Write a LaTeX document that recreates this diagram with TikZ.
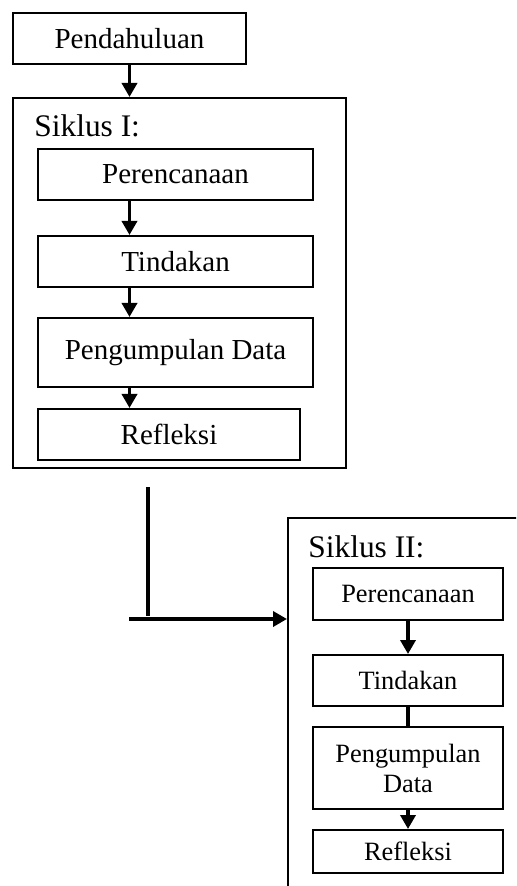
\documentclass[tikz,border=0pt]{standalone}
\usepackage{fontspec}
\setmainfont{Liberation Serif}
\usetikzlibrary{positioning,arrows.meta}

\begin{document}
\begin{tikzpicture}[
    x = 0.5pt, y = -0.5pt,
    > = {Triangle[length=7pt, width=7.5pt]},
    node distance = 17pt,
    box/.style={rectangle, draw, line width=1pt, minimum width=137.5pt, minimum height=25.5pt, inner sep=2pt, font=\fontsize{14.5}{17}\selectfont},
    smallbox/.style={box, minimum width=95pt, font=\fontsize{13.2}{15}\selectfont, align=center},
    frame/.style={rectangle, draw, line width=1pt, anchor=north west, inner sep=0pt},
    title/.style={anchor=base west, inner sep=0pt, font=\fontsize{15.7}{18}\selectfont},
    arrow/.style={->, line width=1.8pt},
    link/.style={line width=1.8pt}
]
    \clip (0,0) rectangle (516,886);

    % Pendahuluan
    \node[box, minimum width=116.5pt, anchor=north west] (pendahuluan) at (12,12) {Pendahuluan};

    % Siklus I
    \node[frame, minimum width=166.5pt, minimum height=185pt] (siklus1) at (12,97) {};
    \node[title] (judul1) at (34,137) {Siklus I:};
    \node[box, anchor=north west] (rencana1) at (37,148) {Perencanaan};
    \node[box, below=17pt of rencana1] (tindakan1) {Tindakan};
    \node[box, minimum height=34.5pt, below=14.5pt of tindakan1] (data1) {Pengumpulan Data};
    \node[box, minimum width=131pt, below=10pt of data1.south west, anchor=north west] (refleksi1) {Refleksi};

    \coordinate (kiri) at (pendahuluan.south);
    \draw[arrow] (kiri) -- (kiri |- siklus1.north);
    \draw[arrow] (kiri |- rencana1.south) -- (kiri |- tindakan1.north);
    \draw[arrow] (kiri |- tindakan1.south) -- (kiri |- data1.north);
    \draw[arrow] (kiri |- data1.south) -- (kiri |- refleksi1.north);

    % ke Siklus II
    \node[frame, minimum width=200pt, minimum height=250pt, line width=0.8pt] (siklus2) at (287,517) {};
    \coordinate (v1) at (148,487);
    \coordinate (v2) at (148,616);
    \coordinate (h1) at (129,619);
    \draw[link] (v1) -- (v2);
    \draw[arrow] (h1) -- (h1 -| siklus2.west);

    % Siklus II
    \node[title] (judul2) at (308,557) {Siklus II:};
    \node[smallbox, minimum height=26pt, anchor=north west] (rencana2) at (312,567) {Perencanaan};
    \node[smallbox, below=16.5pt of rencana2] (tindakan2) {Tindakan};
    \node[smallbox, minimum height=41pt, below=9.5pt of tindakan2] (data2) {Pengumpulan\\Data};
    \node[smallbox, minimum height=21.5pt, below=9.5pt of data2] (refleksi2) {Refleksi};

    \draw[arrow] (rencana2) -- (tindakan2);
    \draw[link] (tindakan2) -- (data2);
    \draw[arrow] (data2) -- (refleksi2);
\end{tikzpicture}
\end{document}
